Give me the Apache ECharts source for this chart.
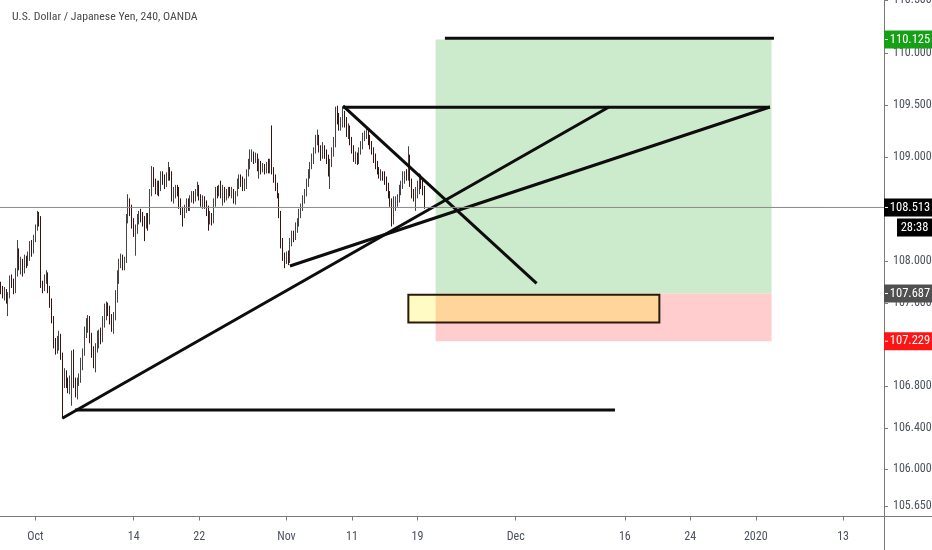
<!DOCTYPE html>
<html><head><meta charset="utf-8">
<script src="https://cdn.jsdelivr.net/npm/echarts@6/dist/echarts.min.js"></script>
<style>html,body{margin:0;padding:0;background:#fff}#c{width:932px;height:550px}</style>
</head><body><div id="c"></div>
<script>
const title = 'U.S. Dollar / Japanese Yen, 240, OANDA';
const barCount = 486;
const tickBars = [19, 73, 109, 157, 193, 229, 283, 343, 379, 415, 463];
const tickLabels = ['Oct', '14', '22', 'Nov', '11', '19', 'Dec', '16', '24', '2020', '13'];
const yTicks = [105.65, 106, 106.4, 106.8, 107.6, 108, 109, 109.5, 110, 110.5];
const yRange = [105.547, 110.504];
// [open, close, low, high] per 4h bar
const candles = [
[107.76,107.72,107.68,107.80],[107.72,107.68,107.64,107.76],[107.68,107.71,107.62,107.75],[107.71,107.64,107.59,107.73],
[107.64,107.66,107.47,107.70],[107.66,107.81,107.64,107.86],[107.81,107.79,107.74,107.87],[107.79,107.71,107.68,107.83],
[107.71,107.88,107.69,107.93],[107.88,108.07,107.85,108.20],[108.07,107.95,107.91,108.12],[107.95,107.99,107.87,108.04],
[107.99,107.91,107.85,108.02],[107.91,108.00,107.88,108.06],[108.00,107.98,107.93,108.05],[107.98,108.04,107.95,108.09],
[108.04,108.16,108.00,108.19],[108.16,108.10,108.04,108.20],[108.10,108.22,108.07,108.25],[108.22,108.31,108.18,108.35],
[108.31,108.44,108.29,108.48],[108.44,108.39,108.33,108.47],[108.39,107.78,107.74,108.43],[107.78,107.76,107.69,107.81],
[107.76,107.81,107.71,107.87],[107.81,107.87,107.78,107.91],[107.87,107.74,107.69,107.89],[107.74,107.59,107.55,107.76],
[107.59,107.43,107.40,107.64],[107.43,107.21,107.16,107.47],[107.21,107.14,107.10,107.26],[107.14,107.21,107.11,107.28],
[107.21,107.26,107.14,107.33],[107.26,107.09,107.05,107.30],[107.09,106.88,106.49,107.12],[106.88,106.93,106.78,106.97],
[106.93,106.83,106.78,106.95],[106.83,106.78,106.73,106.88],[106.78,106.86,106.72,106.90],[106.86,107.12,106.61,107.14],
[107.12,106.83,106.78,107.15],[106.83,106.73,106.69,106.88],[106.73,106.85,106.67,106.88],[106.85,106.88,106.80,106.92],
[106.88,107.02,106.83,107.07],[107.02,107.14,106.95,107.16],[107.14,107.31,107.09,107.37],[107.31,107.37,107.26,107.45],
[107.37,107.43,107.31,107.48],[107.43,107.26,107.21,107.47],[107.26,107.12,107.07,107.31],[107.12,107.05,106.97,107.18],
[107.05,107.16,106.93,107.21],[107.16,107.21,107.12,107.33],[107.21,107.29,107.16,107.34],[107.29,107.26,107.20,107.36],
[107.26,107.40,107.22,107.47],[107.40,107.47,107.36,107.59],[107.47,107.55,107.43,107.61],[107.55,107.53,107.47,107.60],
[107.53,107.43,107.39,107.57],[107.43,107.36,107.32,107.49],[107.36,107.47,107.30,107.51],[107.47,107.64,107.43,107.72],
[107.64,107.83,107.60,107.91],[107.83,107.98,107.78,108.02],[107.98,108.02,107.93,108.07],[108.02,107.96,107.91,108.06],
[107.96,108.00,107.91,108.04],[108.00,108.39,107.98,108.45],[108.39,108.55,108.36,108.64],[108.55,108.50,108.43,108.60],
[108.50,108.36,108.31,108.54],[108.36,108.29,108.23,108.41],[108.29,108.31,108.05,108.35],[108.31,108.39,108.26,108.45],
[108.39,108.44,108.35,108.48],[108.44,108.43,108.37,108.50],[108.43,108.37,108.33,108.47],[108.37,108.35,108.19,108.43],
[108.35,108.41,108.31,108.46],[108.41,108.37,108.29,108.46],[108.37,108.64,108.35,108.69],[108.64,108.86,108.62,108.91],
[108.86,108.74,108.71,108.90],[108.74,108.69,108.64,108.79],[108.69,108.73,108.63,108.77],[108.73,108.69,108.62,108.77],
[108.69,108.83,108.67,108.86],[108.83,108.79,108.73,108.86],[108.79,108.74,108.69,108.83],[108.74,108.81,108.71,108.85],
[108.81,108.86,108.77,108.95],[108.86,108.83,108.77,108.90],[108.83,108.62,108.57,108.86],[108.62,108.64,108.55,108.71],
[108.64,108.69,108.60,108.73],[108.69,108.66,108.62,108.73],[108.66,108.55,108.50,108.71],[108.55,108.48,108.44,108.60],
[108.48,108.46,108.33,108.52],[108.46,108.50,108.41,108.54],[108.50,108.56,108.46,108.60],[108.56,108.52,108.48,108.60],
[108.52,108.60,108.48,108.63],[108.60,108.63,108.56,108.67],[108.63,108.60,108.55,108.67],[108.60,108.65,108.57,108.69],
[108.65,108.69,108.62,108.76],[108.69,108.62,108.58,108.73],[108.62,108.56,108.52,108.64],[108.56,108.60,108.50,108.63],
[108.60,108.54,108.50,108.62],[108.54,108.48,108.43,108.58],[108.48,108.39,108.29,108.53],[108.39,108.43,108.35,108.48],
[108.43,108.39,108.34,108.46],[108.39,108.55,108.36,108.60],[108.55,108.67,108.52,108.71],[108.67,108.64,108.60,108.72],
[108.64,108.69,108.62,108.73],[108.69,108.63,108.60,108.77],[108.63,108.67,108.53,108.73],[108.67,108.60,108.56,108.71],
[108.60,108.62,108.58,108.69],[108.62,108.67,108.60,108.71],[108.67,108.64,108.62,108.71],[108.64,108.66,108.60,108.71],
[108.66,108.58,108.55,108.69],[108.58,108.63,108.54,108.67],[108.63,108.74,108.62,108.79],[108.74,108.79,108.69,108.83],
[108.79,108.77,108.71,108.83],[108.77,108.71,108.67,108.81],[108.71,108.73,108.67,108.79],[108.73,108.84,108.69,108.88],
[108.84,108.90,108.81,108.98],[108.90,109.00,108.88,109.07],[109.00,109.03,108.95,109.07],[109.03,108.98,108.93,109.05],
[108.98,109.00,108.94,109.04],[109.00,108.90,108.86,109.03],[108.90,108.93,108.79,108.98],[108.93,108.88,108.83,108.96],
[108.88,108.90,108.85,108.94],[108.90,108.86,108.83,108.93],[108.86,108.90,108.84,108.95],[108.90,108.88,108.84,108.98],
[108.88,108.92,108.84,108.98],[108.92,108.86,108.83,109.30],[108.86,108.79,108.75,108.90],[108.79,108.71,108.67,108.83],
[108.71,108.63,108.60,108.75],[108.63,108.45,108.41,108.65],[108.45,108.17,108.12,108.48],[108.17,108.04,108.00,108.22],
[108.04,108.00,107.93,108.08],[108.00,108.05,107.97,108.09],[108.05,107.99,107.96,108.10],[107.99,108.17,107.98,108.22],
[108.17,108.23,108.14,108.29],[108.23,108.22,108.18,108.29],[108.22,108.31,108.20,108.37],[108.31,108.36,108.27,108.41],
[108.36,108.45,108.33,108.50],[108.45,108.50,108.41,108.55],[108.50,108.60,108.48,108.63],[108.60,108.64,108.55,108.69],
[108.64,108.74,108.62,108.79],[108.74,108.81,108.71,108.88],[108.81,108.90,108.79,108.95],[108.90,108.98,108.88,109.03],
[108.98,109.05,108.93,109.09],[109.05,109.15,109.03,109.21],[109.15,109.17,109.11,109.26],[109.17,109.07,109.04,109.21],
[109.07,109.02,108.96,109.11],[109.02,109.07,108.98,109.14],[109.07,109.03,108.98,109.11],[109.03,108.98,108.93,109.07],
[108.98,108.86,108.81,109.02],[108.86,108.92,108.69,108.98],[108.92,109.03,108.90,109.09],[109.03,109.12,109.00,109.19],
[109.12,109.44,109.09,109.48],[109.44,109.38,109.31,109.49],[109.38,109.28,109.25,109.42],[109.28,109.32,109.25,109.38],
[109.32,109.38,109.28,109.48],[109.38,109.34,109.28,109.44],[109.34,109.23,109.19,109.38],[109.23,109.27,109.17,109.32],
[109.27,109.15,109.11,109.30],[109.15,109.05,109.03,109.19],[109.05,108.98,108.95,109.11],[108.98,109.00,108.93,109.05],
[109.00,108.96,108.92,109.04],[108.96,109.05,108.93,109.09],[109.05,109.11,109.02,109.15],[109.11,109.19,109.07,109.23],
[109.19,109.21,109.15,109.25],[109.21,109.23,109.17,109.28],[109.23,109.17,109.11,109.27],[109.17,109.11,109.07,109.21],
[109.11,109.05,109.02,109.15],[109.05,108.98,108.94,109.09],[108.98,108.92,108.88,109.03],[108.92,108.86,108.83,108.96],
[108.86,108.83,108.79,108.90],[108.83,108.84,108.77,108.88],[108.84,108.81,108.77,108.86],[108.81,108.77,108.73,108.86],
[108.77,108.71,108.67,108.81],[108.71,108.63,108.60,108.75],[108.63,108.55,108.52,108.67],[108.55,108.39,108.33,108.60],
[108.39,108.52,108.35,108.62],[108.52,108.56,108.48,108.62],[108.56,108.60,108.52,108.64],[108.60,108.67,108.56,108.73],
[108.67,108.73,108.63,108.77],[108.73,108.81,108.69,108.86],[108.81,108.83,108.74,108.86],[108.83,108.81,108.77,108.88],
[108.81,109.00,108.77,109.10],[109.00,108.73,108.71,109.02],[108.74,108.64,108.60,108.79],[108.64,108.62,108.57,108.69],
[108.62,108.63,108.48,108.71],[108.63,108.71,108.60,108.77],[108.71,108.77,108.64,108.84],[108.77,108.74,108.69,108.83],
[108.74,108.69,108.63,108.79],[108.69,108.513,108.50,108.72]
];
const lastPrice = 108.513;
const countdown = '28:38';
const priceTags = [110.125, 108.513, 107.687, 107.229];
// zones: [barFrom, priceTop, barTo, priceBottom]
const zones = [
  [239.0, 110.125, 423.7, 107.687],
  [239.0, 107.687, 423.7, 107.229],
  [224.0, 107.675, 362.0, 107.41]
];
// drawn trend lines: [[bar, price], [bar, price]]
const trendLines = [
  [[244.1, 110.136], [425.0, 110.136]],
  [[188.1, 109.475], [422.8, 109.475]],
  [[188.1, 109.487], [294.5, 107.785]],
  [[33.75, 106.49], [334.3, 109.477]],
  [[158.9, 107.951], [422.8, 109.477]],
  [[40.7, 106.568], [337.6, 106.568]]
];

const FONT = '"Liberation Sans Narrow", "Arial Narrow", "Roboto Condensed", "Liberation Sans", sans-serif';
const categories = Array.from({length: barCount}, (_, i) => 'b' + i);
const tickMap = {};
tickBars.forEach((b, i) => { tickMap[b] = tickLabels[i]; });
const showTick = (idx) => tickMap[idx] !== undefined;

const zoneStyles = [
  {fill: 'rgb(204,234,204)'},
  {fill: 'rgb(255,205,205)'},
  {fill: 'rgba(255,240,0,0.24)', stroke: '#2a1a08', lineWidth: 2}
];
const tagColors = ['#16a016', '#000000', '#505050', '#ff1414'];

const chart = echarts.init(document.getElementById('c'), null, {renderer: 'canvas'});
const series = [
  {
    type: 'custom', xAxisIndex: 1, yAxisIndex: 0, z: 1, silent: true,
    encode: {x: [0, 2], y: [1, 3]},
    data: zones,
    renderItem: (params, api) => {
      const a = api.coord([api.value(0), api.value(1)]);
      const b = api.coord([api.value(2), api.value(3)]);
      return {type: 'rect', shape: {x: a[0], y: a[1], width: b[0] - a[0], height: b[1] - a[1]},
              style: zoneStyles[params.dataIndex], z2: params.dataIndex};
    }
  },
  {
    type: 'candlestick', xAxisIndex: 0, yAxisIndex: 0, z: 3, silent: true,
    barWidth: '62%',
    data: candles,
    itemStyle: {color: '#f2f2f2', color0: '#922424', borderColor: '#444444', borderColor0: '#3a1212', borderWidth: 1}
  }
];
trendLines.forEach(seg => {
  series.push({type: 'line', xAxisIndex: 1, yAxisIndex: 0, z: 5, silent: true, symbol: 'none',
    data: seg, lineStyle: {color: '#0d0d0d', width: 3}});
});
series.push({type: 'line', xAxisIndex: 1, yAxisIndex: 0, z: 6, silent: true, symbol: 'none',
  data: [[-0.5, lastPrice], [barCount - 0.5, lastPrice]], lineStyle: {color: '#8a8a8a', width: 1}});
// price-scale tick marks
series.push({
  type: 'custom', xAxisIndex: 1, yAxisIndex: 0, z: 8, silent: true, clip: false,
  encode: {x: 0, y: 1},
  data: yTicks.map(v => [barCount - 0.5, v]),
  renderItem: (params, api) => {
    const p = api.coord([api.value(0), api.value(1)]);
    return {type: 'line', shape: {x1: p[0], y1: Math.round(p[1]) + 0.5, x2: p[0] + 4, y2: Math.round(p[1]) + 0.5},
            style: {stroke: '#7a7a7a', lineWidth: 1}};
  }
});
series.push({
  type: 'custom', xAxisIndex: 1, yAxisIndex: 0, z: 20, silent: true, clip: false,
  encode: {x: 0, y: 1},
  data: priceTags.map(p => [barCount - 0.5, p]),
  renderItem: (params, api) => {
    const p = api.coord([api.value(0), api.value(1)]);
    const i = params.dataIndex;
    const children = [
      {type: 'rect', shape: {x: p[0], y: p[1] - 9, width: 48, height: 18}, style: {fill: tagColors[i]}},
      {type: 'rect', shape: {x: p[0] + 1, y: p[1] - 0.5, width: 3, height: 1}, style: {fill: '#ffffff'}},
      {type: 'text', style: {text: priceTags[i].toFixed(3), x: p[0] + 26, y: p[1], align: 'center', verticalAlign: 'middle',
        fill: '#ffffff', font: '12.5px ' + FONT}}
    ];
    if (priceTags[i] === lastPrice) {
      children.push({type: 'rect', shape: {x: p[0] + 13, y: p[1] + 11, width: 35, height: 18}, style: {fill: '#000000'}});
      children.push({type: 'text', style: {text: countdown, x: p[0] + 30.5, y: p[1] + 20, align: 'center', verticalAlign: 'middle',
        fill: '#ffffff', font: '12.5px ' + FONT}});
    }
    return {type: 'group', children};
  }
});

chart.setOption({
  animation: false,
  backgroundColor: '#ffffff',
  title: {text: title, left: 7, top: 6, textStyle: {fontFamily: FONT, fontSize: 11.8, fontWeight: 'normal', color: '#4a4a4a'}},
  grid: {left: 0, right: 48, top: 0, bottom: 33.5, containLabel: false, outerBoundsMode: 'none'},
  xAxis: [
    {
      type: 'category', data: categories, boundaryGap: true,
      axisLine: {show: true, onZero: false, lineStyle: {color: '#7a7a7a', width: 1}},
      axisTick: {show: true, alignWithLabel: true, interval: (idx) => showTick(idx), length: 4, lineStyle: {color: '#7a7a7a'}},
      axisLabel: {interval: (idx) => showTick(idx), formatter: (v, idx) => tickMap[idx] || '', margin: 14,
        fontFamily: FONT, fontSize: 12, color: '#4c525e'},
      splitLine: {show: false}
    },
    {type: 'value', min: -0.5, max: barCount - 0.5, show: false}
  ],
  yAxis: [{
    type: 'value', position: 'right', min: yRange[0], max: yRange[1], scale: true,
    axisLine: {show: true, onZero: false, lineStyle: {color: '#7a7a7a', width: 1}},
    axisTick: {show: false},
    axisLabel: {customValues: yTicks, formatter: (v) => Number(v).toFixed(3), margin: 9,
      fontFamily: FONT, fontSize: 12, color: '#4c525e'},
    splitLine: {show: false}
  }],
  graphic: [
    {type: 'line', silent: true, shape: {x1: 884.5, y1: 516, x2: 884.5, y2: 550}, style: {stroke: '#7a7a7a', lineWidth: 1}},
    {type: 'line', silent: true, shape: {x1: 884, y1: 516.5, x2: 932, y2: 516.5}, style: {stroke: '#7a7a7a', lineWidth: 1}}
  ],
  series
});
</script></body></html>
